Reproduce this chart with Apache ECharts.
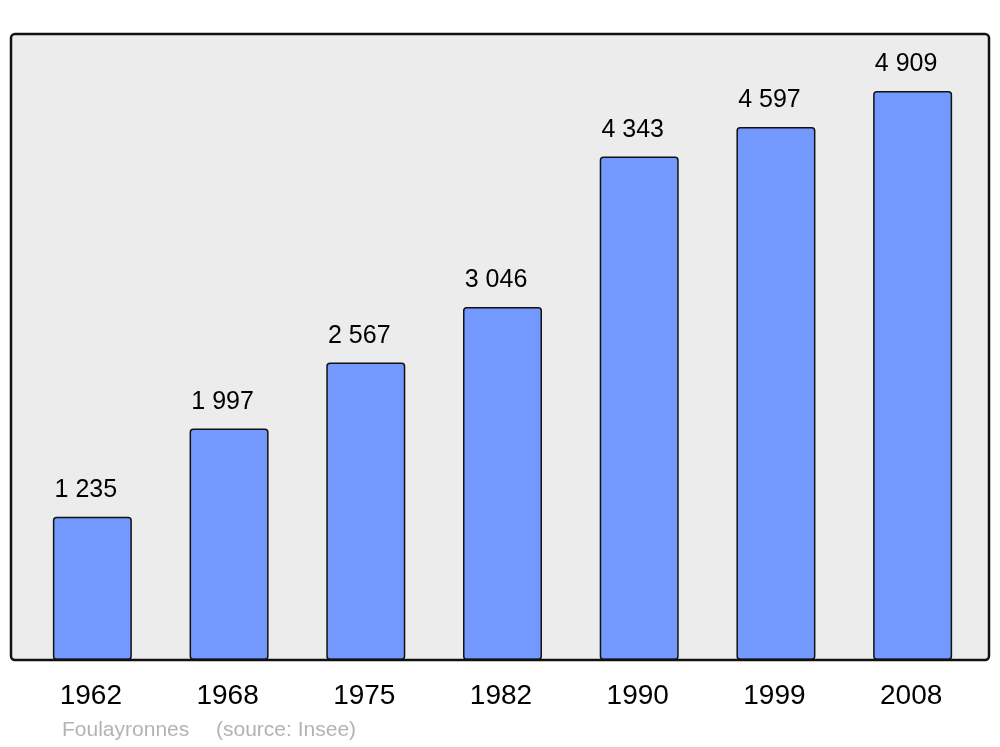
<!DOCTYPE html>
<html>
<head>
<meta charset="utf-8">
<script src="https://cdn.jsdelivr.net/npm/echarts@6/dist/echarts.min.js"></script>
<style>html,body{margin:0;padding:0;background:#fff}#c{width:1000px;height:747px}</style>
</head>
<body>
<div id="c"></div>
<script>
const years = ['1962', '1968', '1975', '1982', '1990', '1999', '2008'];
const population = [1235, 1997, 2567, 3046, 4343, 4597, 4909];
const footerName = 'Foulayronnes';
const footerSource = '(source: Insee)';

function fmt(v) {
  return String(v).replace(/\B(?=(\d{3})+(?!\d))/g, ' ');
}

const chart = echarts.init(document.getElementById('c'), null, {renderer: 'canvas'});
chart.setOption({
  animation: false,
  backgroundColor: '#ffffff',
  grid: {left: 24, right: 19, top: 34, bottom: 87},
  xAxis: {
    type: 'category',
    data: years,
    axisLine: {show: false},
    axisTick: {show: false},
    axisLabel: {
      margin: 22,
      color: '#000',
      fontSize: 28,
      padding: [0, 3, 0, 0],
      fontFamily: 'Liberation Sans, Arial, sans-serif'
    }
  },
  yAxis: {
    type: 'value',
    min: 0,
    max: 5400,
    show: false,
    splitLine: {show: false}
  },
  graphic: [
    {
      type: 'rect', z: -10, silent: true,
      shape: {x: 11, y: 34, width: 978, height: 626, r: 4},
      style: {fill: '#ececec', stroke: null}
    },
    {
      type: 'rect', z: 100, silent: true,
      shape: {x: 11, y: 34, width: 978, height: 626, r: 4},
      style: {fill: null, stroke: '#111111', lineWidth: 2.5}
    },
    {
      type: 'text', left: 62, top: 720, silent: true,
      style: {text: footerName, fill: '#b3b3b3', font: '21px "Liberation Sans", Arial, sans-serif'}
    },
    {
      type: 'text', left: 216, top: 720, silent: true,
      style: {text: footerSource, fill: '#b3b3b3', font: '21px "Liberation Sans", Arial, sans-serif'}
    }
  ],
  series: [{
    type: 'bar',
    data: population,
    barWidth: 79,
    itemStyle: {
      color: '#7399ff',
      borderColor: '#111111',
      borderWidth: 1.5,
      borderRadius: 3
    },
    label: {
      show: true,
      position: 'top',
      distance: 14,
      offset: [-6.5, 0],
      color: '#000',
      fontSize: 25,
      fontFamily: 'Liberation Sans, Arial, sans-serif',
      formatter: p => fmt(p.value)
    }
  }]
});
</script>
</body>
</html>
